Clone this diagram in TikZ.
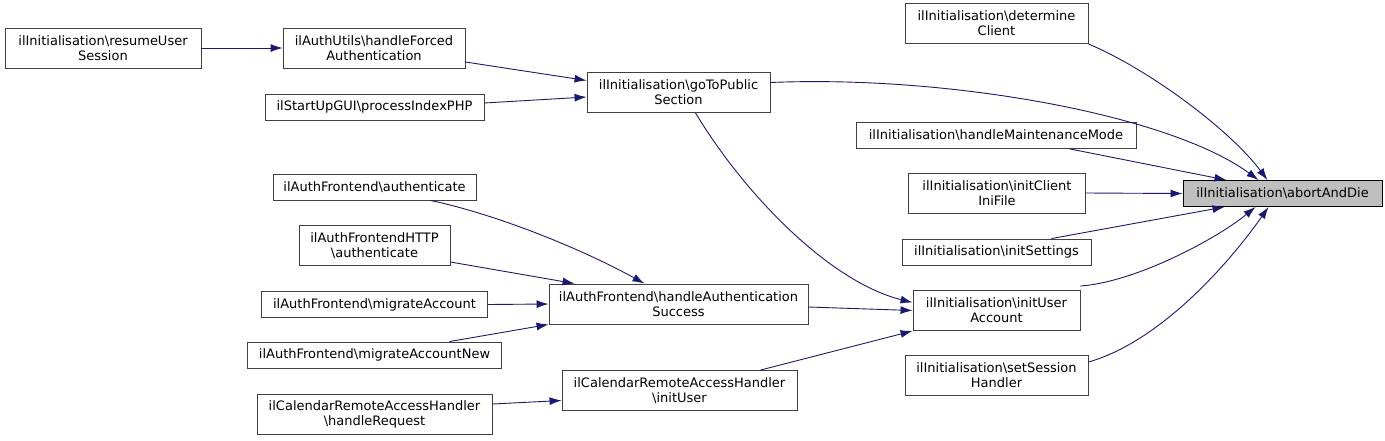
\PassOptionsToPackage{usenames,dvipsnames,svgnames}{xcolor}
\documentclass[tikz,border=0pt]{standalone}
\usepackage{fontspec}
\setmainfont{DejaVu Sans}
\usetikzlibrary{arrows.meta}
\def\bs{\textbackslash}

\begin{document}
\begin{tikzpicture}[x=1pt, y=-1pt,
  fn/.style={draw=black!75, line width=0.9pt, fill=white, align=center, inner sep=0pt,
    font=\fontsize{13}{15}\selectfont, minimum width=#1, minimum height=26},
  fnn/.style={fn=#1, minimum height=40},
  call/.style={draw=MidnightBlue, line width=0.9pt, -{Latex[length=12pt,width=8pt]}}]
\useasboundingbox (0,0) rectangle (1385,440);
% callers, left column
\node[fnn=196] (resume) at (103,48) {ilInitialisation\bs resumeUser\\Session};
\node[fnn=182] (forced) at (374,48) {ilAuthUtils\bs handleForced\\Authentication};
\node[fn=219] (procidx) at (374.5,107) {ilStartUpGUI\bs processIndexPHP};
\node[fn=203] (authfe) at (374.5,187) {ilAuthFrontend\bs authenticate};
\node[fnn=151] (authhttp) at (374.5,245.5) {ilAuthFrontendHTTP\\\bs authenticate};
\node[fn=226] (migr) at (374.5,304.5) {ilAuthFrontend\bs migrateAccount};
\node[fn=254] (migrnew) at (374.5,355) {ilAuthFrontend\bs migrateAccountNew};
\node[fnn=235] (calreq) at (374.5,414) {ilCalendarRemoteAccessHandler\\\bs handleRequest};
% middle column
\node[fnn=183] (gopub) at (678.5,92.5) {ilInitialisation\bs goToPublic\\Section};
\node[fnn=259] (authsucc) at (678.5,304) {ilAuthFrontend\bs handleAuthentication\\Success};
\node[fnn=235] (caluser) at (679.5,390.5) {ilCalendarRemoteAccessHandler\\\bs initUser};
% right column
\node[fnn=183] (detcl) at (996.5,23.5) {ilInitialisation\bs determine\\Client};
\node[fn=280] (maint) at (996,135.5) {ilInitialisation\bs handleMaintenanceMode};
\node[fnn=177] (iniclient) at (997,193) {ilInitialisation\bs initClient\\IniFile};
\node[fn=189] (settings) at (996.5,252) {ilInitialisation\bs initSettings};
\node[fnn=167] (useracc) at (996.5,310.5) {ilInitialisation\bs initUser\\Account};
\node[fnn=183] (sess) at (996.5,375.5) {ilInitialisation\bs setSession\\Handler};
\node[fn=199, fill=black!25, draw=black] (abort) at (1282.5,193.5) {ilInitialisation\bs abortAndDie};

\draw[call] (resume.east) -- (forced.west);
\draw[call] ([yshift=-14pt]forced.east) -- ([yshift=12pt]gopub.west);
\draw[call] ([yshift=4pt]procidx.east) -- ([yshift=-4.5pt]gopub.west);
\draw[call] ([yshift=10pt]gopub.east) .. controls (950,75) and (1170,115) .. ([xshift=-24pt]abort.north);
\draw[call] (detcl.south east) .. controls (1150,70) and (1230,130) .. ([xshift=-15pt]abort.north);
\draw[call] ([xshift=74pt]maint.south) -- ([xshift=-56pt]abort.north);
\draw[call] (iniclient.east) -- (abort.west);
\draw[call] ([xshift=55pt]settings.north) -- ([xshift=-58pt]abort.south);
\draw[call] ([yshift=4pt]useracc.north east) .. controls (1135,282) and (1215,240) .. ([xshift=-27pt]abort.south);
\draw[call] ([yshift=-7pt]sess.north east) .. controls (1165,340) and (1235,255) .. ([xshift=-14pt]abort.south);
\draw[call] ([xshift=17pt]gopub.south) .. controls (745,195) and (830,282) .. ([yshift=8pt]useracc.west);
\draw[call] ([yshift=-3pt]authsucc.east) -- (useracc.west);
\draw[call] ([xshift=81pt]caluser.north) -- (useracc.south west);
\draw[call] ([xshift=56pt]authfe.south) .. controls (495,214) and (580,248) .. ([xshift=-34pt]authsucc.north);
\draw[call] ([yshift=-16.5pt]authhttp.east) -- ([xshift=26pt]authsucc.north west);
\draw[call] (migr.east) -- (authsucc.west);
\draw[call] ([xshift=75pt]migrnew.north) -- (authsucc.south west);
\draw[call] ([yshift=10pt]calreq.east) -- ([yshift=-10pt]caluser.west);
\end{tikzpicture}
\end{document}
